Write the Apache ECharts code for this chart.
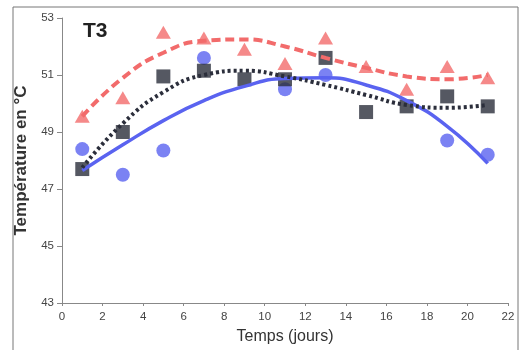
<!DOCTYPE html>
<html><head><meta charset="utf-8">
<script src="https://cdn.jsdelivr.net/npm/echarts@6/dist/echarts.min.js"></script>
<style>html,body{margin:0;padding:0;background:#fff}#c{width:520px;height:350px}</style>
</head><body><div id="c"></div>
<script>
var days = [1, 3, 5, 7, 9, 11, 13, 15, 17, 19, 21];
var xTicks = [0, 2, 4, 6, 8, 10, 12, 14, 16, 18, 20, 22];
var yTicks = [43, 45, 47, 49, 51, 53];
// measured points
var redVals   = [49.55, 50.2, 52.5, 52.3, 51.9, 51.4, 52.3, 51.3, 50.5, 51.3, 50.9];
var blackVals = [47.7, 49.0, 50.95, 51.15, 50.85, 50.85, 51.6, 49.7, 49.9, 50.25, 49.9];
var blueDays  = [1, 3, 5, 7, 11, 13, 19, 21];
var blueVals  = [48.4, 47.5, 48.35, 51.6, 50.5, 51.0, 48.7, 48.2];
// trend curves
var redTrend   = [49.55, 50.9, 51.78, 52.2, 52.25, 52.0, 51.6, 51.25, 50.95, 50.85, 51.0];
var blackTrend = [47.75, 49.3, 50.4, 51.0, 51.15, 50.95, 50.65, 50.3, 49.95, 49.85, 49.95];
var blueTrend  = [47.65, 48.55, 49.4, 50.1, 50.6, 50.88, 50.9, 50.65, 50.1, 49.2, 47.9];

function pairs(xs, ys){ return xs.map(function(x,i){ return [x, ys[i]]; }); }

var RED = '#f26b6b', BLACK = '#2b2e3b', BLUE = '#5a63f0';
var FONT = 'Arial, "Liberation Sans", sans-serif';
var chart = echarts.init(document.getElementById('c'));
chart.setOption({
  animation: false,
  graphic: [
    {type:'rect', shape:{x:13, y:7, width:505, height:350}, style:{fill:'none', stroke:'#777', lineWidth:1}, z:-1},
    {type:'text', left:83, top:21, style:{text:'T3', font:'bold 21px ' + FONT, fill:'#222'}}
  ],
  grid: {left:62, right:12, top:18, bottom:44},
  xAxis: {
    type:'value', min:0, max:22, interval:2,
    name:'Temps (jours)', nameLocation:'middle', nameGap:26,
    nameTextStyle:{fontSize:16, color:'#333', fontFamily:FONT},
    axisLine:{show:true, lineStyle:{color:'#888'}},
    axisTick:{show:true, length:3, lineStyle:{color:'#888'}},
    axisLabel:{fontSize:11.5, color:'#444', margin:8, fontFamily:FONT,
      formatter:function(v){ return xTicks.indexOf(v) >= 0 ? String(v) : ''; }},
    splitLine:{show:false}
  },
  yAxis: {
    type:'value', min:43, max:53, interval:2,
    name:'Température en °C', nameLocation:'middle', nameGap:28,
    nameTextStyle:{fontSize:17, fontWeight:'bold', color:'#333', fontFamily:FONT},
    axisLine:{show:true, lineStyle:{color:'#888'}},
    axisTick:{show:true, length:5, lineStyle:{color:'#888'}},
    axisLabel:{fontSize:11.5, color:'#444', margin:8, fontFamily:FONT,
      formatter:function(v){ return yTicks.indexOf(v) >= 0 ? String(v) : ''; }},
    splitLine:{show:false}
  },
  series: [
    {type:'scatter', data:pairs(blueDays, blueVals), symbol:'circle', symbolSize:14, itemStyle:{color:BLUE}, z:2},
    {type:'scatter', data:pairs(days, blackVals), symbol:'rect', symbolSize:14, itemStyle:{color:BLACK}, z:3},
    {type:'scatter', data:pairs(days, redVals), symbol:'triangle', symbolSize:[15,13], itemStyle:{color:RED}, z:3},
    {type:'line', data:pairs(days, blueTrend), smooth:0.5, symbol:'none', lineStyle:{color:BLUE, width:3.5}, z:4},
    {type:'line', data:pairs(days, blackTrend), smooth:0.5, symbol:'none', lineStyle:{color:BLACK, width:4, type:[3,3]}, z:4},
    {type:'line', data:pairs(days, redTrend), smooth:0.5, symbol:'none', lineStyle:{color:RED, width:4, type:[9,5]}, z:4}
  ]
});
</script></body></html>
